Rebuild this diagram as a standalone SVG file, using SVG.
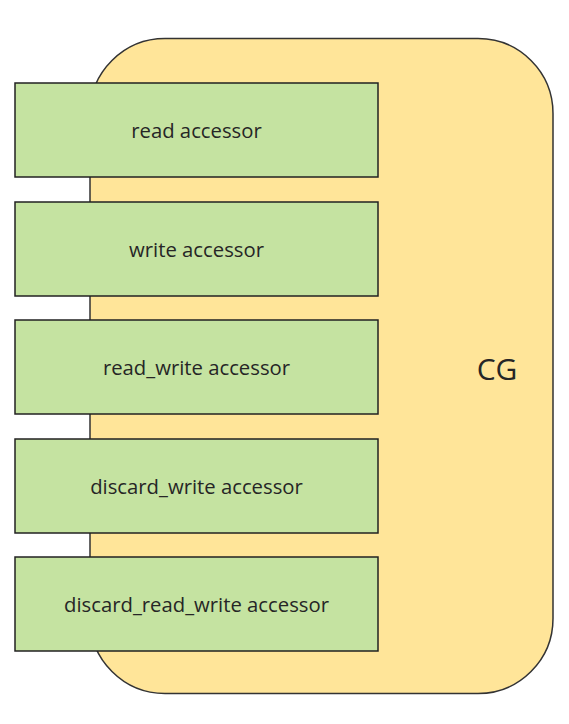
<svg xmlns="http://www.w3.org/2000/svg" width="569" height="724" viewBox="0 0 569 724">
<style>
.box{fill:#C5E3A1;stroke:#222;stroke-width:1.5}
.cg{fill:#FFE599;stroke:#333;stroke-width:1.5}
.t{font-family:"Open Sans","Noto Sans",sans-serif;font-size:20.3px;fill:#262626;text-anchor:middle;dominant-baseline:central}
</style>
<rect width="569" height="724" fill="#fff"/>
<g id="cg">
<rect class="cg" x="90" y="38.5" width="463" height="655" rx="75" ry="75"/>
<text class="t" x="497" y="368" style="font-size:30px">CG</text>
</g>
<g id="connectors"></g>
<g id="n1"><rect class="box" x="15" y="83" width="363" height="94"/><text class="t" x="196.5" y="130">read accessor</text></g>
<g id="n2"><rect class="box" x="15" y="202" width="363" height="94"/><text class="t" x="196.5" y="249">write accessor</text></g>
<g id="n3"><rect class="box" x="15" y="320" width="363" height="94"/><text class="t" x="196.5" y="367">read_write accessor</text></g>
<g id="n4"><rect class="box" x="15" y="439" width="363" height="94"/><text class="t" x="196.5" y="486">discard_write accessor</text></g>
<g id="n5"><rect class="box" x="15" y="557" width="363" height="94"/><text class="t" x="196.5" y="604">discard_read_write accessor</text></g>
</svg>
